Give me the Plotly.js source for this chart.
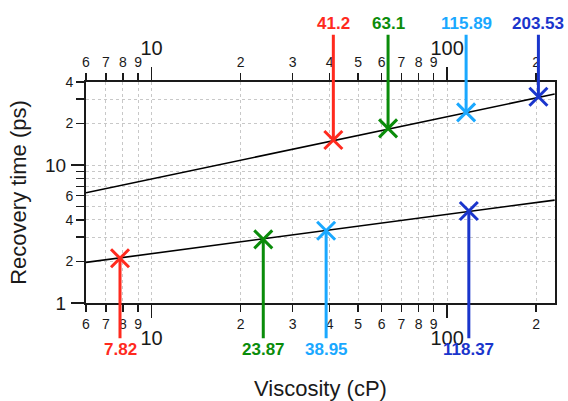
<!DOCTYPE html>
<html>
<head>
<meta charset="utf-8">
<script src="https://cdn.plot.ly/plotly-3.0.1.min.js"></script>
<style>html,body{margin:0;padding:0;background:#fff;}#chart{width:568px;height:401px;}</style>
</head>
<body>
<div id="chart"></div>
<script>
// ---- data ----
const lowerVisc = [7.82, 23.87, 38.95, 118.37];
const lowerTime = [2.11, 2.89, 3.34, 4.64];
const upperVisc = [41.2, 63.1, 115.89, 203.53];
const upperTime = [15.2, 18.45, 24.1, 31.3];
const pointColors = ['#ff2a1e', '#0a8c0a', '#1aa8ff', '#1a35cc'];

const fitX = [6, 231];
const lowerFitY = [1.97, 5.57];
const upperFitY = [6.3, 32.7];

const xMinorVals = [6, 7, 8, 9, 20, 30, 40, 50, 60, 70, 80, 90, 200];
const xMinorText = ['6', '7', '8', '9', '2', '3', '4', '5', '6', '7', '8', '9', '2'];
const xMajorVals = [10, 100];
const xMajorText = ['10', '100'];
const yMinorVals = [2, 3, 4, 5, 6, 7, 8, 9, 20, 30, 40];
const yMinorText = ['2', '', '4', '', '6', '', '', '', '2', '', '4'];
const yMajorVals = [1, 10];
const yMajorText = ['1', '10'];

const xTitle = 'Viscosity (cP)';
const yTitle = 'Recovery time (ps)';

// ---- styling ----
const FONT = 'Liberation Sans, Arial, sans-serif';
const INK = '#1a1a1a';
const xRange = [Math.log10(6), Math.log10(231.6)];
const yRange = [0, Math.log10(40)];
const topLabelY = 2.025;     // log-position of upper value labels (above plot)
const bottomLabelY = -0.336; // log-position of lower value labels (below plot)

const traces = [
  {x: fitX, y: lowerFitY, mode: 'lines', line: {color: '#000', width: 1.6}, showlegend: false, hoverinfo: 'skip'},
  {x: fitX, y: upperFitY, mode: 'lines', line: {color: '#000', width: 1.6}, showlegend: false, hoverinfo: 'skip'},
  {x: lowerVisc, y: lowerTime, mode: 'markers', showlegend: false,
   marker: {symbol: 'x-thin-open', size: 18, color: pointColors, line: {color: pointColors, width: 3}}},
  {x: upperVisc, y: upperTime, mode: 'markers', showlegend: false,
   marker: {symbol: 'x-thin-open', size: 18, color: pointColors, line: {color: pointColors, width: 3}}},
  // empty traces so the overlay axes get drawn
  {x: [], y: [], xaxis: 'x2', yaxis: 'y', showlegend: false, hoverinfo: 'skip'},
  {x: [], y: [], xaxis: 'x3', yaxis: 'y', showlegend: false, hoverinfo: 'skip'},
  {x: [], y: [], xaxis: 'x4', yaxis: 'y', showlegend: false, hoverinfo: 'skip'},
  {x: [], y: [], xaxis: 'x', yaxis: 'y2', showlegend: false, hoverinfo: 'skip'}
];

const annotations = [];
function addLabels(xs, ys, labelY) {
  xs.forEach((v, i) => {
    annotations.push({
      x: Math.log10(v), y: Math.log10(ys[i]), xref: 'x', yref: 'y',
      axref: 'x', ayref: 'y', ax: Math.log10(v), ay: labelY,
      text: String(v), showarrow: true, arrowhead: 0, arrowwidth: 3,
      arrowcolor: pointColors[i], standoff: 0, startstandoff: 0,
      font: {family: FONT, size: 17, color: pointColors[i], weight: 'bold'}
    });
  });
}
addLabels(upperVisc, upperTime, topLabelY);
addLabels(lowerVisc, lowerTime, bottomLabelY);

const common = {
  type: 'log', ticks: 'outside', tickcolor: INK, tickwidth: 1.5,
  zeroline: false, gridcolor: '#c8c8c8', griddash: 'dot', gridwidth: 1,
  linecolor: INK, linewidth: 2, tickmode: 'array', fixedrange: true
};

const layout = {
  width: 568, height: 401,
  margin: {l: 86, r: 13, t: 82, b: 98},
  paper_bgcolor: '#fff', plot_bgcolor: '#fff',
  showlegend: false,
  font: {family: FONT, color: INK},
  xaxis: Object.assign({}, common, {
    range: xRange, side: 'bottom', anchor: 'y',
    tickvals: xMinorVals, ticktext: xMinorText, ticklen: 7,
    tickfont: {family: FONT, size: 14, color: INK},
    showgrid: true, showline: true
  }),
  xaxis2: Object.assign({}, common, {
    range: xRange, side: 'bottom', anchor: 'y', overlaying: 'x',
    tickvals: xMajorVals, ticktext: xMajorText, ticklen: 14, ticklabelstandoff: 3,
    tickfont: {family: FONT, size: 20, color: INK},
    showgrid: true, showline: false,
    title: {text: xTitle, font: {family: FONT, size: 22, color: INK}, standoff: 32}
  }),
  xaxis3: Object.assign({}, common, {
    range: xRange, side: 'top', anchor: 'y', overlaying: 'x',
    tickvals: xMinorVals, ticktext: xMinorText, ticklen: 7,
    tickfont: {family: FONT, size: 14, color: INK},
    showgrid: false, showline: true
  }),
  xaxis4: Object.assign({}, common, {
    range: xRange, side: 'top', anchor: 'y', overlaying: 'x',
    tickvals: xMajorVals, ticktext: xMajorText, ticklen: 14, ticklabelstandoff: 4,
    tickfont: {family: FONT, size: 20, color: INK},
    showgrid: false, showline: false
  }),
  yaxis: Object.assign({}, common, {
    range: yRange, side: 'left', anchor: 'x',
    tickvals: yMinorVals, ticktext: yMinorText, ticklen: 8,
    tickfont: {family: FONT, size: 14, color: INK},
    showgrid: true, showline: true, mirror: true
  }),
  yaxis2: Object.assign({}, common, {
    range: yRange, side: 'left', anchor: 'x', overlaying: 'y',
    tickvals: yMajorVals, ticktext: yMajorText, ticklen: 14, ticklabelstandoff: 1,
    tickfont: {family: FONT, size: 19, color: INK},
    showgrid: true, showline: false,
    title: {text: yTitle, font: {family: FONT, size: 22, color: INK}, standoff: 12}
  }),
  annotations: annotations
};

Plotly.newPlot('chart', traces, layout, {staticPlot: true, displayModeBar: false});
</script>
</body>
</html>
